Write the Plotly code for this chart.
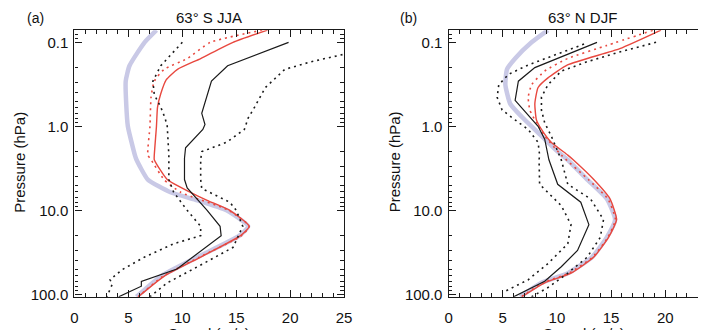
import numpy as np
import plotly.graph_objects as go

# ---------------- data (pressure in hPa, value in x units) ----------------
# Panel (a) 63° S JJA
a_blue_p = [0.0716, 0.1, 0.19, 0.29, 0.55, 1.0, 2.2, 2.5, 4.3, 6.1, 7.6, 10, 15.5, 20, 36, 61, 107]
a_blue_v = [7.6, 6.5, 5.1, 4.75, 4.8, 4.95, 5.6, 5.75, 6.8, 8.9, 11.4, 14.1, 16.1, 15.3, 11.4, 8.0, 5.75]

a_red_p = [0.0716, 0.1, 0.156, 0.21, 0.28, 0.41, 0.59, 1.0, 2.2, 2.5, 4.3, 6.1, 7.6, 10, 15.5, 20, 36, 61, 107]
a_red_v = [17.9, 14.7, 11.7, 9.55, 8.5, 8.0, 7.7, 7.6, 7.4, 7.4, 8.6, 10.75, 12.3, 14.4, 16.2, 15.4, 11.7, 8.3, 5.9]

a_reddot_p = [0.0716, 0.1, 0.156, 0.21, 0.29, 0.45, 1.0, 2.2, 2.5, 4.3, 6.1, 10, 15.5, 20, 36, 61, 107]
a_reddot_v = [17.4, 12.6, 10.45, 8.3, 7.4, 7.1, 7.0, 6.8, 7.1, 8.3, 9.85, 14.3, 16.2, 15.5, 11.6, 8.2, 5.9]

a_blk_p = [0.1, 0.19, 0.29, 0.7, 0.95, 1.09, 1.8, 2.4, 4.3, 5.4, 10, 15.5, 20, 50, 70, 80, 107]
a_blk_v = [19.85, 14.2, 12.7, 11.8, 12.1, 11.9, 10.3, 10.2, 10.2, 10.45, 12.3, 13.5, 13.6, 9.5, 6.2, 6.2, 4.1]

a_blkdot1_p = [0.1, 0.14, 0.19, 0.29, 0.42, 0.59, 0.8, 1.0, 2.2, 4.3, 6.1, 10, 15.5, 20, 25, 36, 51, 67, 76, 107]
a_blkdot1_v = [10.0, 9.0, 8.0, 7.27, 7.4, 8.0, 8.4, 8.6, 8.75, 8.75, 9.2, 10.45, 11.7, 11.7, 9.2, 6.5, 4.4, 3.3, 3.5, 3.0]

a_blkdot2_p = [0.14, 0.17, 0.21, 0.345, 0.59, 0.8, 1.09, 1.55, 2.0, 2.5, 4.3, 5.5, 8.0, 10, 15.5, 27.6, 47, 73, 107]
a_blkdot2_v = [24.85, 21.96, 19.5, 17.7, 16.7, 16.1, 15.75, 14.1, 11.8, 11.7, 11.7, 11.8, 14.4, 15.0, 15.6, 14.7, 11.4, 8.6, 7.0]

# Panel (b) 63° N DJF
b_blue_p = [0.0716, 0.1, 0.156, 0.21, 0.32, 0.54, 0.77, 1.3, 2.0, 2.5, 4.3, 7.3, 12.9, 21, 36, 56, 73, 107]
b_blue_v = [9.17, 7.66, 6.14, 5.39, 5.24, 5.69, 6.75, 8.57, 10.07, 10.98, 12.8, 14.6, 15.37, 14.6, 13.25, 11.0, 8.57, 6.6]

b_red_p = [0.0716, 0.119, 0.186, 0.265, 0.345, 0.54, 0.84, 1.09, 1.55, 2.2, 2.5, 4.3, 7.3, 12.9, 21, 36, 56, 73, 107]
b_red_v = [19.6, 15.8, 10.98, 9.17, 8.26, 7.96, 8.11, 8.57, 9.47, 11.0, 11.5, 13.4, 14.9, 15.5, 14.76, 13.4, 11.3, 8.87, 6.75]

b_reddot_p = [0.072, 0.109, 0.156, 0.22, 0.32, 0.45, 0.64, 0.91, 1.3, 2.2, 4.3, 7.3, 12.9, 21, 36, 56, 73, 107]
b_reddot_v = [18.85, 14.6, 10.98, 8.87, 7.66, 7.35, 7.5, 8.11, 8.87, 10.4, 12.9, 14.7, 15.4, 14.7, 13.3, 11.1, 8.7, 6.7]

b_blk_p = [0.1, 0.2, 0.29, 0.49, 1.0, 1.42, 2.5, 4.9, 8.0, 14.8, 30, 47, 70, 107]
b_blk_v = [13.7, 7.96, 6.44, 6.14, 8.26, 8.87, 9.26, 10.07, 12.2, 12.95, 11.9, 10.4, 8.87, 6.0]

b_blkdot1_p = [0.105, 0.186, 0.24, 0.32, 0.45, 0.64, 0.84, 1.09, 1.55, 2.2, 2.5, 4.9, 8.8, 14.8, 25, 43, 67, 95]
b_blkdot1_v = [12.5, 7.35, 5.54, 4.63, 4.48, 4.94, 6.14, 7.35, 8.26, 8.4, 8.35, 8.4, 10.4, 11.3, 11.0, 9.17, 7.35, 5.0]

b_blkdot2_p = [0.1, 0.13, 0.17, 0.22, 0.32, 0.45, 0.64, 0.91, 1.3, 2.0, 2.5, 4.9, 7.3, 12.9, 21, 36, 56, 83, 107]
b_blkdot2_v = [19.15, 15.8, 12.8, 10.4, 9.17, 8.57, 8.57, 8.87, 9.47, 10.07, 10.4, 11.0, 13.1, 14.3, 14.0, 12.8, 11.0, 9.17, 7.66]

ytick_vals = [0.1, 1, 10, 100]
ytick_text = ["0.1", "1.0", "10.0", "100.0"]
titles = ["63° S JJA", "63° N DJF"]
labels = ["(a)", "(b)"]
ytitle = "Pressure (hPa)"
xtitle = "Speed (m/s)"

# ---------------- styling ----------------
BLUE = "#c9c9e6"
RED = "#e8483f"
BLK = "#1a1a1a"
DOT = "2px,4px"
FONT = "Liberation Sans, Arial, sans-serif"

fig = go.Figure()

def add(xs, ps, color, width, dash, ax, shape):
    fig.add_trace(go.Scatter(x=xs, y=ps, mode="lines", xaxis="x" + ax, yaxis="y" + ax,
                             line=dict(color=color, width=width, dash=dash, shape=shape, smoothing=0.5),
                             showlegend=False, hoverinfo="skip"))

panels = [
    ("", dict(blue=(a_blue_v, a_blue_p), red=(a_red_v, a_red_p), reddot=(a_reddot_v, a_reddot_p),
              blk=(a_blk_v, a_blk_p), d1=(a_blkdot1_v, a_blkdot1_p), d2=(a_blkdot2_v, a_blkdot2_p))),
    ("2", dict(blue=(b_blue_v, b_blue_p), red=(b_red_v, b_red_p), reddot=(b_reddot_v, b_reddot_p),
               blk=(b_blk_v, b_blk_p), d1=(b_blkdot1_v, b_blkdot1_p), d2=(b_blkdot2_v, b_blkdot2_p))),
]
for ax, d in panels:
    add(*d["blue"], BLUE, 4.5, "solid", ax, "spline")
    add(*d["reddot"], RED, 1.6, DOT, ax, "spline")
    add(*d["red"], RED, 1.4, "solid", ax, "spline")
    add(*d["d1"], BLK, 1.6, DOT, ax, "linear")
    add(*d["d2"], BLK, 1.6, DOT, ax, "linear")
    add(*d["blk"], BLK, 1.2, "solid", ax, "linear")

minor_vals = [m * 10.0 ** e for e in range(-2, 3) for m in range(2, 10)]
ydom = [1 - 302.3 / 330, 1 - 30.7 / 330]
yrange = [np.log10(107), np.log10(0.0716)]

common_x = dict(showline=True, linecolor=BLK, linewidth=1.3, ticks="inside", ticklen=7, tickwidth=1.2,
                tickcolor=BLK, dtick=5, tick0=0, showgrid=False, zeroline=False,
                minor=dict(ticks="inside", dtick=1, ticklen=3.5, tickwidth=1, tickcolor=BLK, showgrid=False),
                tickfont=dict(family=FONT, size=15, color="#111"), mirror="ticks",
                ticklabelstandoff=7, fixedrange=True)
common_y = dict(type="log", range=yrange, domain=ydom, showline=True, linecolor=BLK, linewidth=1.3,
                ticks="inside", ticklen=7, tickwidth=1.2, tickcolor=BLK, tickmode="array",
                tickvals=ytick_vals, ticktext=ytick_text, showgrid=False, zeroline=False,
                minor=dict(ticks="inside", tickmode="array", tickvals=minor_vals, ticklen=3.5,
                           tickwidth=1, tickcolor=BLK, showgrid=False),
                tickfont=dict(family=FONT, size=15, color="#111"), ticklabelstandoff=2, fixedrange=True)

fig.update_layout(
    width=706, height=330, margin=dict(l=0, r=0, t=0, b=0),
    paper_bgcolor="white", plot_bgcolor="white",
    xaxis=dict(domain=[71.7 / 706, 346 / 706], range=[0, 25], anchor="y", **common_x),
    yaxis=dict(anchor="x", mirror="ticks", **common_y),
    xaxis2=dict(domain=[452.3 / 706, 1.0], range=[0, (706 - 452.3) / 11.02], anchor="y2", **common_x),
    yaxis2=dict(anchor="x2", mirror=False, **common_y),
)

ann = []
for cx, t in zip([209, 589], titles):
    ann.append(dict(x=cx / 706, y=1 - 18 / 330, xref="paper", yref="paper", text=t, showarrow=False,
                    xanchor="center", yanchor="middle", font=dict(family=FONT, size=15, color="#111")))
for cx, t in zip([32, 412], labels):
    ann.append(dict(x=cx / 706, y=1 - 18 / 330, xref="paper", yref="paper", text=t, showarrow=False,
                    xanchor="center", yanchor="middle", font=dict(family=FONT, size=14, color="#111")))
for cx in [15, 397]:
    ann.append(dict(x=cx / 706, y=1 - 165 / 330, xref="paper", yref="paper", text=ytitle,
                    showarrow=False, textangle=-90, xanchor="center", yanchor="middle",
                    font=dict(family=FONT, size=15, color="#111")))
for cx in [209, 590]:
    ann.append(dict(x=cx / 706, y=1 - 329 / 330, xref="paper", yref="paper", text=xtitle,
                    showarrow=False, xanchor="center", yanchor="top",
                    font=dict(family=FONT, size=15, color="#111")))
fig.update_layout(annotations=ann)

fig.write_html("out.html")
